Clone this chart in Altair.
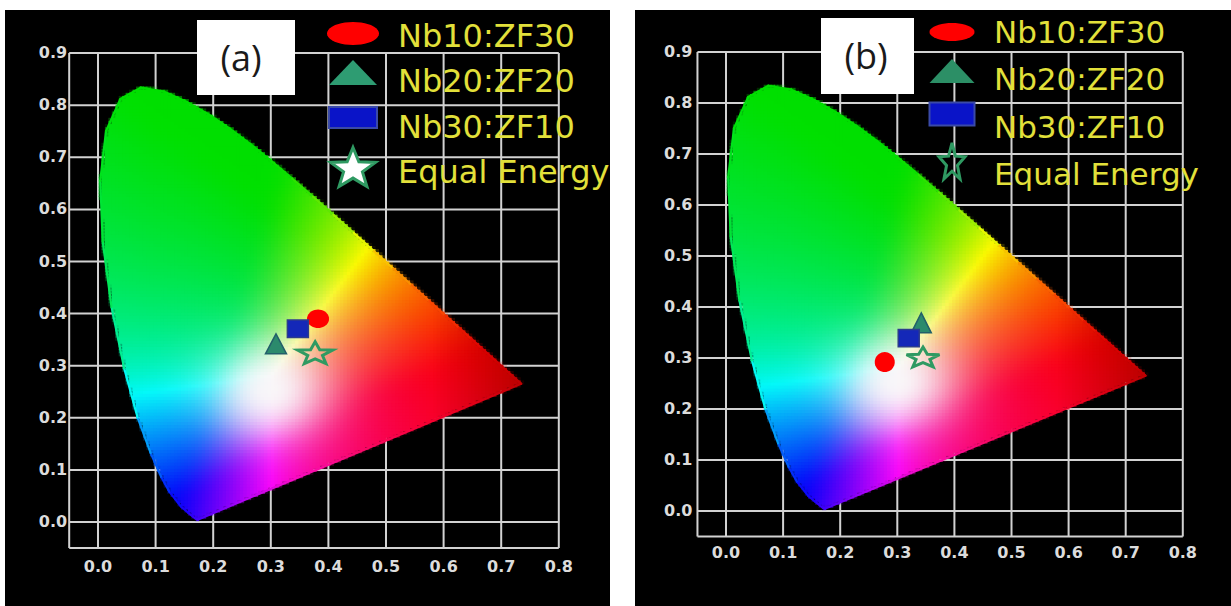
import math
import numpy as np
import pandas as pd
import altair as alt

# ---------------------------------------------------------------------------
# CIE 1931 2-degree spectral locus (chromaticity x, y), 380-700 nm
# ---------------------------------------------------------------------------
locus_x = [0.1741, 0.1738, 0.1733, 0.1726, 0.1714, 0.1689, 0.1644, 0.1566, 0.1440,
           0.1241, 0.1096, 0.0913, 0.0687, 0.0454, 0.0235, 0.0082, 0.0039, 0.0139,
           0.0389, 0.0743, 0.1142, 0.1547, 0.1929, 0.2296, 0.2658, 0.3016, 0.3373,
           0.3731, 0.4087, 0.4441, 0.4788, 0.5125, 0.5448, 0.5752, 0.6029, 0.6270,
           0.6482, 0.6658, 0.6915, 0.7079, 0.7190, 0.7260, 0.7300, 0.7334, 0.7347]
locus_y = [0.0050, 0.0049, 0.0048, 0.0048, 0.0051, 0.0069, 0.0109, 0.0177, 0.0297,
           0.0578, 0.0868, 0.1327, 0.2007, 0.2950, 0.4127, 0.5384, 0.6548, 0.7502,
           0.8120, 0.8338, 0.8262, 0.8059, 0.7816, 0.7543, 0.7243, 0.6923, 0.6589,
           0.6245, 0.5896, 0.5547, 0.5202, 0.4866, 0.4544, 0.4242, 0.3965, 0.3725,
           0.3514, 0.3340, 0.3083, 0.2920, 0.2809, 0.2740, 0.2700, 0.2666, 0.2653]

# Sample chromaticity coordinates
series = ["Nb10:ZF30", "Nb20:ZF20", "Nb30:ZF10", "Equal Energy"]
a_x = [0.382, 0.309, 0.347, 0.377]
a_y = [0.390, 0.342, 0.371, 0.325]
b_x = [0.278, 0.342, 0.320, 0.345]
b_y = [0.292, 0.369, 0.339, 0.302]

x_ticks = [0.0, 0.1, 0.2, 0.3, 0.4, 0.5, 0.6, 0.7, 0.8]
y_ticks = [0.0, 0.1, 0.2, 0.3, 0.4, 0.5, 0.6, 0.7, 0.8, 0.9]

# ---------------------------------------------------------------------------
# Colour field inside the locus: a grid of small rect cells
# ---------------------------------------------------------------------------
STEP = 0.006
SUB = 4
WHITE = (0.30, 0.28)          # neutral point used for hue balance
GLOW = (0.30, 0.25)           # centre of the bright white area
poly = np.column_stack([locus_x, locus_y])


def inside(px, py):
    res = np.zeros(px.shape, dtype=bool)
    n = len(poly)
    for i in range(n):
        x1, y1 = poly[i]
        x2, y2 = poly[(i + 1) % n]
        if y1 == y2:
            continue
        crosses = (y1 > py) != (y2 > py)
        xi = x1 + (py - y1) * (x2 - x1) / (y2 - y1)
        res ^= crosses & (px < xi)
    return res


def xy_lin(x, y):
    X = x / y
    Z = (1 - x - y) / y
    r = 3.2406 * X - 1.5372 - 0.4986 * Z
    g = -0.9689 * X + 1.8758 + 0.0415 * Z
    b = 0.0557 * X - 0.2040 + 1.0570 * Z
    return np.stack([r, g, b], axis=-1)


def blur(arr, sigma):
    k = int(3 * sigma)
    t = np.arange(-k, k + 1)
    ker = np.exp(-t ** 2 / (2 * sigma ** 2))
    ker /= ker.sum()
    out = arr.copy()
    for axis in (0, 1):
        pad = [(0, 0)] * arr.ndim
        pad[axis] = (k, k)
        p = np.pad(out, pad, mode="edge")
        acc = np.zeros_like(out)
        for i, w in enumerate(ker):
            sl = [slice(None)] * arr.ndim
            sl[axis] = slice(i, i + out.shape[axis])
            acc += w * p[tuple(sl)]
        out = acc
    return out


gx = np.arange(0.0, 0.74, STEP)
gy = np.arange(0.0, 0.84, STEP)
GX, GY = np.meshgrid(gx + STEP / 2, gy + STEP / 2)

rgb = xy_lin(GX, GY) / xy_lin(np.array(WHITE[0]), np.array(WHITE[1]))
rgb = np.clip(rgb, 0, None)
rgb = rgb / rgb.max(axis=-1, keepdims=True)
rgb = blur(rgb, 3.0)
rgb = rgb / rgb.max(axis=-1, keepdims=True)
# deeper, less minty green where green dominates
gdom = np.clip(rgb[..., 1] - np.maximum(rgb[..., 0], rgb[..., 2]), 0, 1)
rgb = rgb * (1 - 0.12 * gdom[..., None])
glow = 0.95 * np.exp(-(((GX - GLOW[0]) / 0.068) ** 2 + ((GY - GLOW[1]) / 0.062) ** 2) / 2)
rgb = rgb * (1 - glow[..., None]) + glow[..., None]
shade = 1 - 0.28 * np.clip((GX - 0.58) / 0.15, 0, 1)          # deeper red toward the tip
rgb = rgb * shade[..., None] * 0.97
rgb = np.power(np.clip(rgb, 0, 1), 1 / 1.2)
v = np.clip(np.round(rgb * 255), 0, 255).astype(int)
HEX = np.array(["#%02x%02x%02x" % (r, g, b) for r, g, b in v.reshape(-1, 3)]).reshape(GX.shape)


def field_color(x, y):
    i = int(np.clip(round((y - STEP / 2) / STEP), 0, len(gy) - 1))
    j = int(np.clip(round((x - STEP / 2) / STEP), 0, len(gx) - 1))
    return HEX[i, j]


def pull_in(x, y, f=0.03):
    return x + (WHITE[0] - x) * f, y + (WHITE[1] - y) * f


CX, CY = np.meshgrid(gx, gy)
cov = np.zeros(CX.shape)
for i in range(SUB):
    for j in range(SUB):
        cov += inside(CX + (i + 0.5) / SUB * STEP, CY + (j + 0.5) / SUB * STEP)
cov /= SUB * SUB
keep = cov > 0
cells = pd.DataFrame({
    "x": np.round(CX[keep], 4),
    "y": np.round(CY[keep], 4),
    "x2": np.round(CX[keep] + STEP * 1.3, 4),
    "y2": np.round(CY[keep] + STEP * 1.3, 4),
    "c": HEX[keep],
    "o": np.round(cov[keep], 3),
})

# spectral edge segments between consecutive locus samples
seg_rows = []
for i in range(len(locus_x) - 1):
    mx, my = pull_in((locus_x[i] + locus_x[i + 1]) / 2, (locus_y[i] + locus_y[i + 1]) / 2)
    seg_rows.append({"x": locus_x[i], "y": locus_y[i], "x2": locus_x[i + 1], "y2": locus_y[i + 1],
                     "c": field_color(mx, my)})
edges = pd.DataFrame(seg_rows)

# purple line (380 nm to 700 nm) drawn with a gradient stroke
purple = pd.DataFrame({"x": [locus_x[0]], "y": [locus_y[0]], "x2": [locus_x[-1]], "y2": [locus_y[-1]]})
purple_stops = []
for f in [0.0, 0.15, 0.3, 0.5, 0.7, 0.85, 1.0]:
    px_ = locus_x[0] + (locus_x[-1] - locus_x[0]) * f
    py_ = locus_y[0] + (locus_y[-1] - locus_y[0]) * f
    qx, qy = pull_in(px_, py_)
    purple_stops.append(alt.GradientStop(offset=f, color=field_color(qx, qy)))

# ---------------------------------------------------------------------------
# Marker shapes (unit-box SVG paths, x extent -1..1)
# ---------------------------------------------------------------------------

def ellipse_path(ry, n=40):
    pts = [(math.cos(2 * math.pi * k / n), ry * math.sin(2 * math.pi * k / n)) for k in range(n)]
    return "M" + " L".join(f"{x:.3f},{y:.3f}" for x, y in pts) + " Z"


def tri_path(h):
    return f"M0,{-h:.3f} L1,{h:.3f} L-1,{h:.3f} Z"


def rect_path(h):
    return f"M-1,{-h:.3f} L1,{-h:.3f} L1,{h:.3f} L-1,{h:.3f} Z"


def star_path(h, inner=0.42):
    rx = 1 / 0.951
    ry = 2 * h / 1.809
    pts = []
    for k in range(10):
        r = 1.0 if k % 2 == 0 else inner
        a = math.radians(-90 + 36 * k)
        pts.append((rx * r * math.cos(a), ry * (r * math.sin(a) + 0.0955)))
    return "M" + " L".join(f"{x:.3f},{y:.3f}" for x, y in pts) + " Z"


GREEN = "#2f9a62"
YELLOW = "#e2e03a"
GRID = "#d2d2d2"


def panel(tag, geo, leg, pts_x, pts_y, pstyle):
    left, top, W, H = geo["left"], geo["top"], geo["W"], geo["H"]
    xdom = [(left - geo["x0"]) / geo["sx"], (left + W - geo["x0"]) / geo["sx"]]
    ydom = [(geo["y0"] - top - H) / geo["sy"], (geo["y0"] - top) / geo["sy"]]

    def X(f):
        return alt.X(f, type="quantitative", scale=alt.Scale(domain=xdom, nice=False, zero=False), axis=None)

    def Y(f):
        return alt.Y(f, type="quantitative", scale=alt.Scale(domain=ydom, nice=False, zero=False), axis=None)

    layers = []

    # frame and grid
    lines = []
    for t in [-0.05] + x_ticks:
        lines.append({"x": t, "y": -0.05, "x2": t, "y2": 0.9})
    for t in [-0.05] + y_ticks:
        lines.append({"x": -0.05, "y": t, "x2": 0.8, "y2": t})
    layers.append(alt.Chart(pd.DataFrame(lines)).mark_rule(color=GRID, strokeWidth=2).encode(
        x=X("x"), y=Y("y"), x2="x2:Q", y2="y2:Q"))

    # chromaticity colour field
    layers.append(alt.Chart(cells).mark_rect(strokeWidth=0).encode(
        x=X("x"), y=Y("y"), x2="x2:Q", y2="y2:Q",
        color=alt.Color("c:N", scale=None),
        opacity=alt.Opacity("o:Q", scale=None)))
    layers.append(alt.Chart(edges).mark_rule(strokeWidth=2.2, strokeCap="round").encode(
        x=X("x"), y=Y("y"), x2="x2:Q", y2="y2:Q",
        color=alt.Color("c:N", scale=None)))
    layers.append(alt.Chart(purple).mark_rule(
        strokeWidth=2.2, strokeCap="round",
        stroke=alt.LinearGradient(gradient="linear", stops=purple_stops, x1=0, x2=1, y1=0, y2=0)).encode(
        x=X("x"), y=Y("y"), x2="x2:Q", y2="y2:Q"))

    # tick labels
    xl = pd.DataFrame({"x": x_ticks, "y": [-0.05] * len(x_ticks), "t": [f"{v:.1f}" for v in x_ticks]})
    layers.append(alt.Chart(xl).mark_text(font="DejaVu Sans", fontWeight="bold", fontSize=16,
                                          color="#dcdcdc", baseline="middle", align="center",
                                          dy=geo["xlab_dy"]).encode(x=X("x"), y=Y("y"), text="t:N"))
    yl = pd.DataFrame({"x": [-0.05] * len(y_ticks), "y": y_ticks, "t": [f"{v:.1f}" for v in y_ticks]})
    layers.append(alt.Chart(yl).mark_text(font="DejaVu Sans", fontWeight="bold", fontSize=16,
                                          color="#dcdcdc", baseline="middle", align="right",
                                          dx=geo["ylab_dx"]).encode(x=X("x"), y=Y("y"), text="t:N"))

    # panel tag box
    bx = leg["box"]
    tagdf = pd.DataFrame({"t": [tag]})
    layers.append(alt.Chart(tagdf).mark_rect(color="white").encode(
        x=alt.value(bx[0]), x2=alt.value(bx[1]), y=alt.value(bx[2]), y2=alt.value(bx[3])))
    layers.append(alt.Chart(tagdf).mark_text(font="Open Sans", fontSize=36, color="#1a1a1a",
                                             align="center", baseline="middle").encode(
        x=alt.value(leg["tag_xy"][0]), y=alt.value(leg["tag_xy"][1]), text="t:N"))

    # legend
    for k, name in enumerate(series):
        s = leg["sym"][k]
        df = pd.DataFrame({"label": [name]})
        layers.append(alt.Chart(df).mark_point(
            shape=s["path"], size=s["w"] ** 2, opacity=1, filled=s["fill"] != "none",
            fill=s["fill"] if s["fill"] != "none" else "transparent",
            stroke=s["stroke"], strokeWidth=s["sw"]).encode(
            x=alt.value(leg["sym_x"]), y=alt.value(leg["sym_y"][k])))
        layers.append(alt.Chart(df).mark_text(
            font="DejaVu Sans", fontSize=leg["fs"], color=YELLOW, align="left",
            baseline="alphabetic", clip=True).encode(
            x=alt.value(leg["txt_x"]), y=alt.value(leg["txt_y"][k]), text="label:N"))

    # sample points
    for k, name in enumerate(series):
        s = pstyle[k]
        df = pd.DataFrame({"x": [pts_x[k]], "y": [pts_y[k]], "label": [name]})
        layers.append(alt.Chart(df).mark_point(
            shape=s["path"], size=s["w"] ** 2, opacity=1, filled=s["fill"] != "none",
            fill=s["fill"] if s["fill"] != "none" else "transparent",
            stroke=s["stroke"], strokeWidth=s["sw"]).encode(x=X("x"), y=Y("y")))

    return alt.layer(*layers).properties(width=W, height=H)


geo_a = dict(left=5, top=10, W=605, H=596, x0=98, y0=522, sx=576, sy=521, ylab_dx=-2, xlab_dy=19)
geo_b = dict(left=635, top=10, W=596, H=596, x0=726, y0=511, sx=571, sy=510, ylab_dx=-5, xlab_dy=16)

leg_a = dict(
    box=(192, 290, 10, 85), tag_xy=(236, 50),
    sym_x=348, sym_y=[23.5, 62.5, 107.5, 157], txt_x=393, txt_y=[37, 82, 128, 173], fs=32,
    sym=[
        dict(path=ellipse_path(23 / 52), w=52, fill="#ff0000", stroke="#ff0000", sw=0),
        dict(path=tri_path(25 / 48), w=48, fill="#2e9c72", stroke="#2e9c72", sw=0),
        dict(path=rect_path(21 / 48), w=48, fill="#0a14c8", stroke="#3a4aa8", sw=2),
        dict(path=star_path(39 / 45), w=45, fill="#ffffff", stroke=GREEN, sw=3),
    ])
leg_b = dict(
    box=(186, 279, 8, 84), tag_xy=(231, 48),
    sym_x=317, sym_y=[22, 61, 104, 151], txt_x=359, txt_y=[33, 80, 128, 175], fs=31,
    sym=[
        dict(path=ellipse_path(18 / 45), w=45, fill="#ff0000", stroke="#ff0000", sw=0),
        dict(path=tri_path(24 / 45), w=45, fill="#2c8f66", stroke="#2c8f66", sw=0),
        dict(path=rect_path(23 / 45), w=45, fill="#0a14c8", stroke="#3a4aa8", sw=2),
        dict(path=star_path(36 / 26), w=26, fill="none", stroke=GREEN, sw=3),
    ])

pts_a = [
    dict(path=ellipse_path(0.84), w=22, fill="#ff0000", stroke="#ff0000", sw=0),
    dict(path=tri_path(0.95), w=21, fill="#2b8a6c", stroke="#22606a", sw=1.5),
    dict(path=rect_path(0.83), w=21, fill="#1428b8", stroke="#2c3c8c", sw=1.5),
    dict(path=star_path(0.62), w=35, fill="none", stroke=GREEN, sw=3),
]
pts_b = [
    dict(path=ellipse_path(1.0), w=20, fill="#ff0000", stroke="#ff0000", sw=0),
    dict(path=tri_path(1.0), w=20, fill="#2b8a6c", stroke="#22606a", sw=1.5),
    dict(path=rect_path(0.83), w=21, fill="#1428b8", stroke="#2c3c8c", sw=1.5),
    dict(path=star_path(0.6), w=33, fill="none", stroke=GREEN, sw=3),
]

chart = alt.hconcat(
    panel("(a)", geo_a, leg_a, a_x, a_y, pts_a),
    panel("(b)", geo_b, leg_b, b_x, b_y, pts_b),
    spacing=25,
).properties(
    padding={"left": 5, "top": 10, "right": 0, "bottom": 0},
    background="white",
).configure_view(fill="black", stroke=None)

chart.save("out.html", embed_options={"renderer": "svg", "actions": False})
